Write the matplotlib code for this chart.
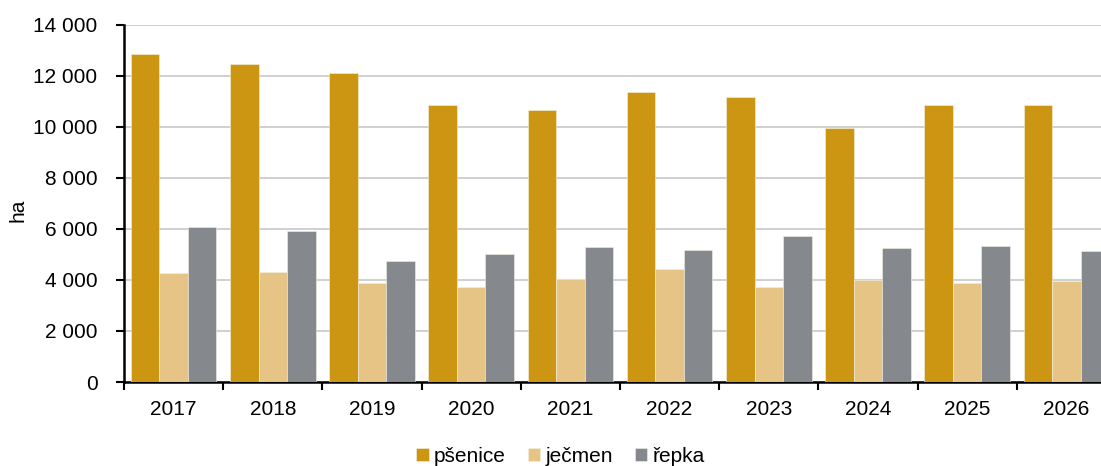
import matplotlib
matplotlib.use("Agg")
import matplotlib.pyplot as plt
import numpy as np
from matplotlib.ticker import FuncFormatter

years = ["2017", "2018", "2019", "2020", "2021", "2022", "2023", "2024", "2025", "2026"]
psenice = [12860, 12470, 12120, 10860, 10670, 11370, 11180, 9960, 10860, 10860]
jecmen = [4270, 4310, 3880, 3730, 4040, 4430, 3730, 4000, 3880, 3960]
repka = [6080, 5920, 4750, 5020, 5290, 5180, 5730, 5250, 5330, 5140]
series_names = ["pšenice", "ječmen", "řepka"]
colors = ["#CC9613", "#E6C486", "#85888C"]

plt.rcParams['font.family'] = ['Liberation Sans', 'DejaVu Sans']
W, H = 1101, 466
fig = plt.figure(figsize=(W / 100, H / 100), dpi=100)
left, right, top, bottom = 124, 1116, 24.5, 382
ax = fig.add_axes([left / W, 1 - bottom / H, (right - left) / W, (bottom - top) / H])

fs = 15
x = np.arange(len(years))
bw = 0.287
for i, (vals, name, c) in enumerate(zip([psenice, jecmen, repka], series_names, colors)):
    ax.bar(x + (i - 1) * bw, vals, width=bw, color=c, label=name,
           edgecolor="#f5f0e0", linewidth=0.4, zorder=3)

ax.set_xlim(-0.5, len(years) - 0.5)
ax.set_ylim(0, 14000)
ax.set_yticks(np.arange(0, 14001, 2000))
ax.yaxis.set_major_formatter(FuncFormatter(lambda v, p: f"{int(v):,}".replace(",", " ")))
ax.set_xticks(x)
ax.set_xticklabels(years)
ax.set_xticks(np.arange(-0.5, len(years), 1), minor=True)
ax.tick_params(axis='x', which='major', length=0, labelsize=fs, pad=13)
ax.tick_params(axis='x', which='minor', length=6, width=1.5, direction='out')
ax.tick_params(axis='y', length=6, width=1.5, labelsize=fs, pad=13)
ax.grid(axis='y', color="#c8c8c8", linewidth=1.2, zorder=0)
for s in ['top', 'right']:
    ax.spines[s].set_visible(False)
for s in ['left', 'bottom']:
    ax.spines[s].set_linewidth(1.8)
ax.set_ylabel("ha", fontsize=fs, va='center')
ax.yaxis.set_label_coords(-0.107, 0.48)

fig.legend(loc='center', bbox_to_anchor=(0.5 + 10 / W, 1 - 456 / H), ncol=3, frameon=False,
           fontsize=fs, handlelength=0.6, handleheight=0.6, handletextpad=0.25,
           columnspacing=1.05)

fig.savefig("out.png", dpi=100)
